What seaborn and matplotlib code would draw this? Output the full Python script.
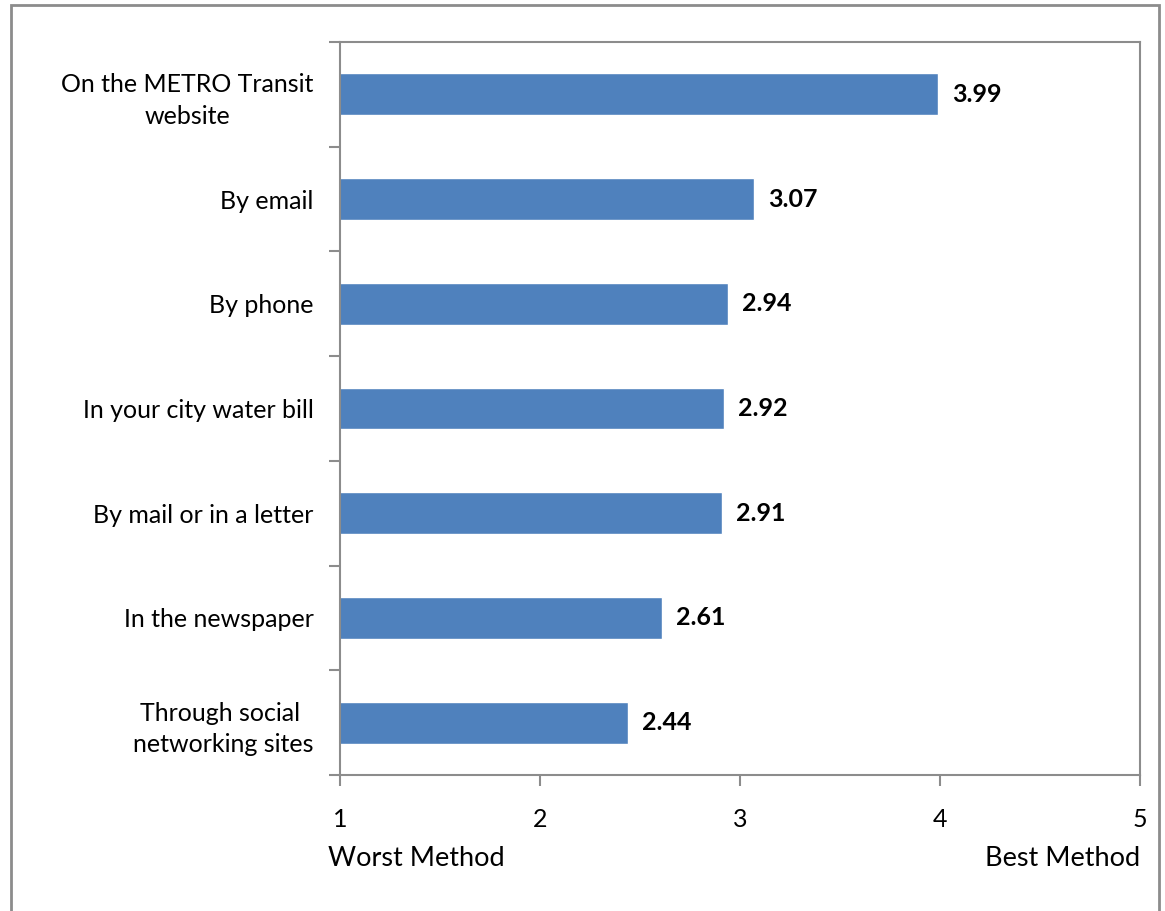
import numpy as np
import pandas as pd
import matplotlib.pyplot as plt
import seaborn as sns
from matplotlib.patches import Rectangle

sns.set_theme(style="white")
plt.rcParams['font.family'] = ['Lato', 'DejaVu Sans']
plt.rcParams['text.color'] = 'black'
plt.rcParams['xtick.color'] = 'black'
plt.rcParams['ytick.color'] = 'black'

# Data
methods = ["On the METRO Transit\nwebsite", "By email", "By phone",
           "In your city water bill", "By mail or in a letter",
           "In the newspaper", "Through social \nnetworking sites"]
scores = [3.99, 3.07, 2.94, 2.92, 2.91, 2.61, 2.44]
x_ticks = [1, 2, 3, 4, 5]

df = pd.DataFrame({"method": methods, "score": scores})

fig = plt.figure(figsize=(11.65, 9.11), dpi=100)
ax = fig.add_axes([340 / 1165, 1 - 775 / 911, 800 / 1165, 733 / 911])

sns.barplot(data=df, x="score", y="method", orient="h", color="#4F81BD",
            saturation=1, width=0.40, ax=ax)

ax.set_xlim(1, 5)
ax.set_ylim(6.5, -0.5)
ax.set_xticks(x_ticks)
ax.set_xlabel("")
ax.set_ylabel("")

# category separators as ticks on the y axis
ax.set_yticks(np.arange(-0.5, 7, 1), minor=True)
ax.tick_params(axis="y", which="major", length=0, pad=19, labelsize=18,
               labelcolor="black")
ax.tick_params(axis="y", which="minor", length=8, width=1.5, color="#8C8C8C", left=True)
ax.tick_params(axis="x", which="major", length=8, width=1.5, color="#8C8C8C",
               bottom=True, pad=16, labelsize=18, labelcolor="black")
for lab in ax.get_yticklabels():
    lab.set_multialignment("center")
    lab.set_linespacing(1.45)

for s in ax.spines.values():
    s.set_color("#8C8C8C")
    s.set_linewidth(1.5)

# value labels
for i, v in enumerate(scores):
    ax.text(v + 0.07, i, f"{v:.2f}", va="center", ha="left",
            fontsize=18, fontweight="bold", color="black")

fig.text(328 / 1165, 1 - 858 / 911, "Worst Method", fontsize=19.5, ha="left", va="center")
fig.text(1140 / 1165, 1 - 858 / 911, "Best Method", fontsize=19.5, ha="right", va="center")

# outer frame
fig.patches.append(Rectangle((11 / 1165, -0.05), 1148 / 1165, 1.05 - 5 / 911,
                             transform=fig.transFigure, fill=False,
                             edgecolor="#8C8C8C", linewidth=2))

fig.savefig("out.png", dpi=100)
